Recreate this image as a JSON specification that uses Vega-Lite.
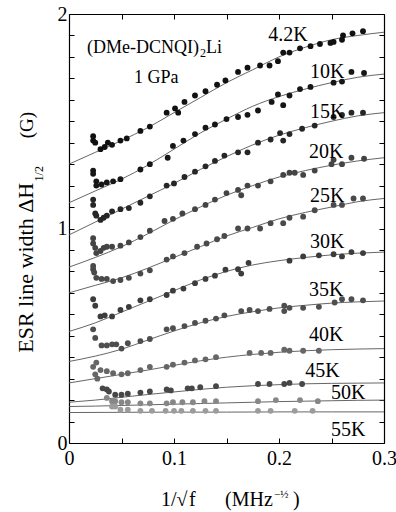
{
 "$schema": "https://vega.github.io/schema/vega-lite/v6.json",
 "width": 315, "height": 429,
 "autosize": {"type": "none"},
 "padding": {"left": 69, "top": 14, "right": 12, "bottom": 69},
 "background": "white",
 "config": {
  "view": {"stroke": null},
  "font": "Liberation Serif",
  "axis": {"domainColor": "black", "domainWidth": 1.2, "tickColor": "black", "tickWidth": 1, "tickSize": -5, "grid": false, "title": null, "labelFont": "Liberation Serif", "labelFontSize": 20, "labelColor": "black", "labelFlush": false, "labelOverlap": false, "labelBound": false, "format": "~g"}
 },
 "datasets": {
  "curves": [
   {"s":"4.2K","x":0,"y":1.30},{"s":"4.2K","x":0.025,"y":1.355},{"s":"4.2K","x":0.05,"y":1.41},{"s":"4.2K","x":0.075,"y":1.47},{"s":"4.2K","x":0.1,"y":1.54},{"s":"4.2K","x":0.125,"y":1.61},{"s":"4.2K","x":0.15,"y":1.68},{"s":"4.2K","x":0.175,"y":1.74},{"s":"4.2K","x":0.2,"y":1.80},{"s":"4.2K","x":0.225,"y":1.845},{"s":"4.2K","x":0.25,"y":1.88},{"s":"4.2K","x":0.275,"y":1.90},{"s":"4.2K","x":0.3,"y":1.915},
   {"s":"10K","x":0,"y":1.12},{"s":"10K","x":0.025,"y":1.175},{"s":"10K","x":0.05,"y":1.23},{"s":"10K","x":0.075,"y":1.295},{"s":"10K","x":0.1,"y":1.37},{"s":"10K","x":0.125,"y":1.445},{"s":"10K","x":0.15,"y":1.51},{"s":"10K","x":0.175,"y":1.57},{"s":"10K","x":0.2,"y":1.615},{"s":"10K","x":0.225,"y":1.65},{"s":"10K","x":0.25,"y":1.68},{"s":"10K","x":0.275,"y":1.705},{"s":"10K","x":0.3,"y":1.72},
   {"s":"15K","x":0,"y":0.97},{"s":"15K","x":0.025,"y":1.03},{"s":"15K","x":0.05,"y":1.09},{"s":"15K","x":0.075,"y":1.15},{"s":"15K","x":0.1,"y":1.21},{"s":"15K","x":0.125,"y":1.275},{"s":"15K","x":0.15,"y":1.335},{"s":"15K","x":0.175,"y":1.39},{"s":"15K","x":0.2,"y":1.435},{"s":"15K","x":0.225,"y":1.47},{"s":"15K","x":0.25,"y":1.50},{"s":"15K","x":0.275,"y":1.525},{"s":"15K","x":0.3,"y":1.54},
   {"s":"20K","x":0,"y":0.82},{"s":"20K","x":0.025,"y":0.865},{"s":"20K","x":0.05,"y":0.915},{"s":"20K","x":0.075,"y":0.975},{"s":"20K","x":0.1,"y":1.04},{"s":"20K","x":0.125,"y":1.10},{"s":"20K","x":0.15,"y":1.155},{"s":"20K","x":0.175,"y":1.20},{"s":"20K","x":0.2,"y":1.24},{"s":"20K","x":0.225,"y":1.27},{"s":"20K","x":0.25,"y":1.295},{"s":"20K","x":0.275,"y":1.315},{"s":"20K","x":0.3,"y":1.33},
   {"s":"25K","x":0,"y":0.70},{"s":"25K","x":0.025,"y":0.735},{"s":"25K","x":0.05,"y":0.77},{"s":"25K","x":0.075,"y":0.815},{"s":"25K","x":0.1,"y":0.865},{"s":"25K","x":0.125,"y":0.915},{"s":"25K","x":0.15,"y":0.965},{"s":"25K","x":0.175,"y":1.005},{"s":"25K","x":0.2,"y":1.045},{"s":"25K","x":0.225,"y":1.075},{"s":"25K","x":0.25,"y":1.10},{"s":"25K","x":0.275,"y":1.125},{"s":"25K","x":0.3,"y":1.14},
   {"s":"30K","x":0,"y":0.52},{"s":"30K","x":0.025,"y":0.56},{"s":"30K","x":0.05,"y":0.61},{"s":"30K","x":0.075,"y":0.66},{"s":"30K","x":0.1,"y":0.71},{"s":"30K","x":0.125,"y":0.76},{"s":"30K","x":0.15,"y":0.80},{"s":"30K","x":0.175,"y":0.83},{"s":"30K","x":0.2,"y":0.85},{"s":"30K","x":0.225,"y":0.865},{"s":"30K","x":0.25,"y":0.877},{"s":"30K","x":0.275,"y":0.885},{"s":"30K","x":0.3,"y":0.89},
   {"s":"35K","x":0,"y":0.38},{"s":"35K","x":0.025,"y":0.405},{"s":"35K","x":0.05,"y":0.437},{"s":"35K","x":0.075,"y":0.48},{"s":"35K","x":0.1,"y":0.522},{"s":"35K","x":0.125,"y":0.56},{"s":"35K","x":0.15,"y":0.59},{"s":"35K","x":0.175,"y":0.612},{"s":"35K","x":0.2,"y":0.63},{"s":"35K","x":0.225,"y":0.642},{"s":"35K","x":0.25,"y":0.652},{"s":"35K","x":0.275,"y":0.658},{"s":"35K","x":0.3,"y":0.662},
   {"s":"40K","x":0,"y":0.28},{"s":"40K","x":0.025,"y":0.30},{"s":"40K","x":0.05,"y":0.32},{"s":"40K","x":0.075,"y":0.34},{"s":"40K","x":0.1,"y":0.362},{"s":"40K","x":0.125,"y":0.383},{"s":"40K","x":0.15,"y":0.40},{"s":"40K","x":0.175,"y":0.413},{"s":"40K","x":0.2,"y":0.423},{"s":"40K","x":0.225,"y":0.43},{"s":"40K","x":0.25,"y":0.435},{"s":"40K","x":0.275,"y":0.438},{"s":"40K","x":0.3,"y":0.44},
   {"s":"45K","x":0,"y":0.19},{"s":"45K","x":0.025,"y":0.20},{"s":"45K","x":0.05,"y":0.213},{"s":"45K","x":0.075,"y":0.226},{"s":"45K","x":0.1,"y":0.238},{"s":"45K","x":0.125,"y":0.25},{"s":"45K","x":0.15,"y":0.26},{"s":"45K","x":0.175,"y":0.267},{"s":"45K","x":0.2,"y":0.272},{"s":"45K","x":0.225,"y":0.276},{"s":"45K","x":0.25,"y":0.278},{"s":"45K","x":0.275,"y":0.279},{"s":"45K","x":0.3,"y":0.28},
   {"s":"50K","x":0,"y":0.17},{"s":"50K","x":0.025,"y":0.172},{"s":"50K","x":0.05,"y":0.175},{"s":"50K","x":0.075,"y":0.178},{"s":"50K","x":0.1,"y":0.181},{"s":"50K","x":0.125,"y":0.184},{"s":"50K","x":0.15,"y":0.187},{"s":"50K","x":0.175,"y":0.19},{"s":"50K","x":0.2,"y":0.193},{"s":"50K","x":0.225,"y":0.195},{"s":"50K","x":0.25,"y":0.197},{"s":"50K","x":0.275,"y":0.199},{"s":"50K","x":0.3,"y":0.20},
   {"s":"55K","x":0,"y":0.142},{"s":"55K","x":0.05,"y":0.143},{"s":"55K","x":0.1,"y":0.144},{"s":"55K","x":0.15,"y":0.144},{"s":"55K","x":0.2,"y":0.145},{"s":"55K","x":0.25,"y":0.145},{"s":"55K","x":0.3,"y":0.145}
  ],
  "pts": [
   {"s":"4.2K","x":0.023,"y":1.43},{"s":"4.2K","x":0.023,"y":1.41},{"s":"4.2K","x":0.025,"y":1.40},{"s":"4.2K","x":0.03,"y":1.37},{"s":"4.2K","x":0.034,"y":1.38},{"s":"4.2K","x":0.037,"y":1.40},{"s":"4.2K","x":0.041,"y":1.39},{"s":"4.2K","x":0.049,"y":1.41},{"s":"4.2K","x":0.055,"y":1.42},{"s":"4.2K","x":0.068,"y":1.455},{"s":"4.2K","x":0.077,"y":1.475},{"s":"4.2K","x":0.093,"y":1.54},{"s":"4.2K","x":0.101,"y":1.56},{"s":"4.2K","x":0.104,"y":1.54},{"s":"4.2K","x":0.11,"y":1.59},{"s":"4.2K","x":0.12,"y":1.62},{"s":"4.2K","x":0.13,"y":1.64},{"s":"4.2K","x":0.141,"y":1.67},{"s":"4.2K","x":0.149,"y":1.69},{"s":"4.2K","x":0.161,"y":1.73},{"s":"4.2K","x":0.17,"y":1.75},{"s":"4.2K","x":0.182,"y":1.76},{"s":"4.2K","x":0.191,"y":1.76},{"s":"4.2K","x":0.199,"y":1.78},{"s":"4.2K","x":0.204,"y":1.82},{"s":"4.2K","x":0.21,"y":1.82},{"s":"4.2K","x":0.22,"y":1.84},{"s":"4.2K","x":0.23,"y":1.85},{"s":"4.2K","x":0.239,"y":1.86},{"s":"4.2K","x":0.249,"y":1.865},{"s":"4.2K","x":0.252,"y":1.87},{"s":"4.2K","x":0.26,"y":1.88},{"s":"4.2K","x":0.261,"y":1.90},{"s":"4.2K","x":0.27,"y":1.91},{"s":"4.2K","x":0.28,"y":1.92},
   {"s":"10K","x":0.023,"y":1.27},{"s":"10K","x":0.023,"y":1.255},{"s":"10K","x":0.026,"y":1.22},{"s":"10K","x":0.026,"y":1.20},{"s":"10K","x":0.031,"y":1.205},{"s":"10K","x":0.036,"y":1.215},{"s":"10K","x":0.042,"y":1.22},{"s":"10K","x":0.049,"y":1.23},{"s":"10K","x":0.068,"y":1.275},{"s":"10K","x":0.077,"y":1.30},{"s":"10K","x":0.094,"y":1.33},{"s":"10K","x":0.099,"y":1.385},{"s":"10K","x":0.109,"y":1.41},{"s":"10K","x":0.12,"y":1.44},{"s":"10K","x":0.13,"y":1.47},{"s":"10K","x":0.139,"y":1.485},{"s":"10K","x":0.15,"y":1.51},{"s":"10K","x":0.161,"y":1.52},{"s":"10K","x":0.17,"y":1.53},{"s":"10K","x":0.18,"y":1.55},{"s":"10K","x":0.193,"y":1.59},{"s":"10K","x":0.199,"y":1.625},{"s":"10K","x":0.204,"y":1.575},{"s":"10K","x":0.21,"y":1.62},{"s":"10K","x":0.22,"y":1.65},{"s":"10K","x":0.23,"y":1.66},{"s":"10K","x":0.252,"y":1.68},{"s":"10K","x":0.26,"y":1.685},{"s":"10K","x":0.269,"y":1.73},{"s":"10K","x":0.281,"y":1.725},
   {"s":"15K","x":0.023,"y":1.135},{"s":"15K","x":0.023,"y":1.11},{"s":"15K","x":0.025,"y":1.07},{"s":"15K","x":0.026,"y":1.06},{"s":"15K","x":0.03,"y":1.04},{"s":"15K","x":0.033,"y":1.05},{"s":"15K","x":0.036,"y":1.06},{"s":"15K","x":0.041,"y":1.08},{"s":"15K","x":0.049,"y":1.09},{"s":"15K","x":0.057,"y":1.095},{"s":"15K","x":0.068,"y":1.12},{"s":"15K","x":0.077,"y":1.15},{"s":"15K","x":0.093,"y":1.20},{"s":"15K","x":0.1,"y":1.21},{"s":"15K","x":0.11,"y":1.24},{"s":"15K","x":0.12,"y":1.265},{"s":"15K","x":0.13,"y":1.29},{"s":"15K","x":0.139,"y":1.315},{"s":"15K","x":0.148,"y":1.34},{"s":"15K","x":0.161,"y":1.355},{"s":"15K","x":0.17,"y":1.355},{"s":"15K","x":0.18,"y":1.40},{"s":"15K","x":0.192,"y":1.415},{"s":"15K","x":0.201,"y":1.445},{"s":"15K","x":0.204,"y":1.41},{"s":"15K","x":0.21,"y":1.44},{"s":"15K","x":0.222,"y":1.465},{"s":"15K","x":0.234,"y":1.48},{"s":"15K","x":0.252,"y":1.52},{"s":"15K","x":0.26,"y":1.53},{"s":"15K","x":0.269,"y":1.54},{"s":"15K","x":0.28,"y":1.54},
   {"s":"20K","x":0.023,"y":0.955},{"s":"20K","x":0.023,"y":0.93},{"s":"20K","x":0.025,"y":0.91},{"s":"20K","x":0.026,"y":0.885},{"s":"20K","x":0.03,"y":0.895},{"s":"20K","x":0.033,"y":0.91},{"s":"20K","x":0.036,"y":0.915},{"s":"20K","x":0.041,"y":0.915},{"s":"20K","x":0.049,"y":0.92},{"s":"20K","x":0.057,"y":0.935},{"s":"20K","x":0.068,"y":0.96},{"s":"20K","x":0.077,"y":0.99},{"s":"20K","x":0.091,"y":1.035},{"s":"20K","x":0.099,"y":1.045},{"s":"20K","x":0.108,"y":1.07},{"s":"20K","x":0.12,"y":1.09},{"s":"20K","x":0.13,"y":1.11},{"s":"20K","x":0.139,"y":1.135},{"s":"20K","x":0.15,"y":1.165},{"s":"20K","x":0.161,"y":1.18},{"s":"20K","x":0.164,"y":1.155},{"s":"20K","x":0.17,"y":1.20},{"s":"20K","x":0.18,"y":1.20},{"s":"20K","x":0.192,"y":1.22},{"s":"20K","x":0.204,"y":1.25},{"s":"20K","x":0.21,"y":1.26},{"s":"20K","x":0.215,"y":1.26},{"s":"20K","x":0.223,"y":1.25},{"s":"20K","x":0.234,"y":1.27},{"s":"20K","x":0.25,"y":1.30},{"s":"20K","x":0.252,"y":1.32},{"s":"20K","x":0.26,"y":1.30},{"s":"20K","x":0.269,"y":1.33},{"s":"20K","x":0.281,"y":1.325},
   {"s":"25K","x":0.023,"y":0.825},{"s":"25K","x":0.023,"y":0.81},{"s":"25K","x":0.024,"y":0.795},{"s":"25K","x":0.026,"y":0.77},{"s":"25K","x":0.031,"y":0.765},{"s":"25K","x":0.036,"y":0.765},{"s":"25K","x":0.042,"y":0.755},{"s":"25K","x":0.049,"y":0.76},{"s":"25K","x":0.057,"y":0.77},{"s":"25K","x":0.068,"y":0.79},{"s":"25K","x":0.077,"y":0.805},{"s":"25K","x":0.093,"y":0.855},{"s":"25K","x":0.099,"y":0.87},{"s":"25K","x":0.11,"y":0.885},{"s":"25K","x":0.122,"y":0.915},{"s":"25K","x":0.131,"y":0.93},{"s":"25K","x":0.141,"y":0.95},{"s":"25K","x":0.148,"y":0.965},{"s":"25K","x":0.161,"y":1.0},{"s":"25K","x":0.17,"y":1.0},{"s":"25K","x":0.182,"y":1.0},{"s":"25K","x":0.192,"y":1.025},{"s":"25K","x":0.204,"y":1.025},{"s":"25K","x":0.21,"y":1.05},{"s":"25K","x":0.223,"y":1.055},{"s":"25K","x":0.234,"y":1.085},{"s":"25K","x":0.252,"y":1.11},{"s":"25K","x":0.26,"y":1.11},{"s":"25K","x":0.271,"y":1.14},{"s":"25K","x":0.28,"y":1.14},
   {"s":"30K","x":0.023,"y":0.67},{"s":"30K","x":0.025,"y":0.64},{"s":"30K","x":0.03,"y":0.59},{"s":"30K","x":0.034,"y":0.595},{"s":"30K","x":0.041,"y":0.59},{"s":"30K","x":0.049,"y":0.62},{"s":"30K","x":0.057,"y":0.635},{"s":"30K","x":0.068,"y":0.665},{"s":"30K","x":0.077,"y":0.67},{"s":"30K","x":0.093,"y":0.69},{"s":"30K","x":0.099,"y":0.71},{"s":"30K","x":0.109,"y":0.72},{"s":"30K","x":0.12,"y":0.745},{"s":"30K","x":0.13,"y":0.765},{"s":"30K","x":0.139,"y":0.78},{"s":"30K","x":0.149,"y":0.808},{"s":"30K","x":0.161,"y":0.81},{"s":"30K","x":0.164,"y":0.79},{"s":"30K","x":0.171,"y":0.84},{"s":"30K","x":0.21,"y":0.85},{"s":"30K","x":0.223,"y":0.87},{"s":"30K","x":0.238,"y":0.875},{"s":"30K","x":0.252,"y":0.88},{"s":"30K","x":0.26,"y":0.87},{"s":"30K","x":0.269,"y":0.89},{"s":"30K","x":0.28,"y":0.885},
   {"s":"35K","x":0.023,"y":0.53},{"s":"35K","x":0.025,"y":0.49},{"s":"35K","x":0.031,"y":0.455},{"s":"35K","x":0.036,"y":0.455},{"s":"35K","x":0.041,"y":0.46},{"s":"35K","x":0.045,"y":0.46},{"s":"35K","x":0.05,"y":0.44},{"s":"35K","x":0.056,"y":0.465},{"s":"35K","x":0.068,"y":0.475},{"s":"35K","x":0.077,"y":0.485},{"s":"35K","x":0.093,"y":0.53},{"s":"35K","x":0.099,"y":0.535},{"s":"35K","x":0.11,"y":0.545},{"s":"35K","x":0.12,"y":0.56},{"s":"35K","x":0.13,"y":0.57},{"s":"35K","x":0.14,"y":0.58},{"s":"35K","x":0.148,"y":0.595},{"s":"35K","x":0.164,"y":0.615},{"s":"35K","x":0.172,"y":0.62},{"s":"35K","x":0.18,"y":0.615},{"s":"35K","x":0.191,"y":0.625},{"s":"35K","x":0.205,"y":0.64},{"s":"35K","x":0.205,"y":0.615},{"s":"35K","x":0.21,"y":0.63},{"s":"35K","x":0.223,"y":0.63},{"s":"35K","x":0.238,"y":0.635},{"s":"35K","x":0.253,"y":0.655},{"s":"35K","x":0.26,"y":0.67},{"s":"35K","x":0.269,"y":0.67},{"s":"35K","x":0.28,"y":0.665},
   {"s":"40K","x":0.023,"y":0.355},{"s":"40K","x":0.026,"y":0.375},{"s":"40K","x":0.025,"y":0.32},{"s":"40K","x":0.027,"y":0.30},{"s":"40K","x":0.03,"y":0.34},{"s":"40K","x":0.036,"y":0.335},{"s":"40K","x":0.042,"y":0.325},{"s":"40K","x":0.05,"y":0.32},{"s":"40K","x":0.056,"y":0.325},{"s":"40K","x":0.068,"y":0.34},{"s":"40K","x":0.077,"y":0.355},{"s":"40K","x":0.093,"y":0.355},{"s":"40K","x":0.099,"y":0.365},{"s":"40K","x":0.11,"y":0.375},{"s":"40K","x":0.12,"y":0.385},{"s":"40K","x":0.13,"y":0.39},{"s":"40K","x":0.14,"y":0.40},{"s":"40K","x":0.172,"y":0.42},{"s":"40K","x":0.183,"y":0.42},{"s":"40K","x":0.192,"y":0.42},{"s":"40K","x":0.205,"y":0.435},{"s":"40K","x":0.21,"y":0.43},{"s":"40K","x":0.223,"y":0.43},{"s":"40K","x":0.238,"y":0.43},
   {"s":"45K","x":0.032,"y":0.255},{"s":"45K","x":0.036,"y":0.25},{"s":"45K","x":0.038,"y":0.24},{"s":"45K","x":0.044,"y":0.225},{"s":"45K","x":0.05,"y":0.225},{"s":"45K","x":0.056,"y":0.23},{"s":"45K","x":0.068,"y":0.235},{"s":"45K","x":0.077,"y":0.24},{"s":"45K","x":0.093,"y":0.25},{"s":"45K","x":0.097,"y":0.245},{"s":"45K","x":0.113,"y":0.255},{"s":"45K","x":0.117,"y":0.255},{"s":"45K","x":0.125,"y":0.26},{"s":"45K","x":0.14,"y":0.265},{"s":"45K","x":0.18,"y":0.275},{"s":"45K","x":0.191,"y":0.275},{"s":"45K","x":0.205,"y":0.275},{"s":"45K","x":0.21,"y":0.28},{"s":"45K","x":0.222,"y":0.275},
   {"s":"50K","x":0.036,"y":0.21},{"s":"50K","x":0.041,"y":0.195},{"s":"50K","x":0.044,"y":0.195},{"s":"50K","x":0.05,"y":0.19},{"s":"50K","x":0.056,"y":0.19},{"s":"50K","x":0.068,"y":0.185},{"s":"50K","x":0.077,"y":0.185},{"s":"50K","x":0.093,"y":0.185},{"s":"50K","x":0.099,"y":0.19},{"s":"50K","x":0.108,"y":0.19},{"s":"50K","x":0.118,"y":0.19},{"s":"50K","x":0.129,"y":0.195},{"s":"50K","x":0.14,"y":0.195},{"s":"50K","x":0.18,"y":0.195},{"s":"50K","x":0.197,"y":0.2},{"s":"50K","x":0.22,"y":0.2},{"s":"50K","x":0.237,"y":0.195},
   {"s":"55K","x":0.041,"y":0.17},{"s":"55K","x":0.044,"y":0.17},{"s":"55K","x":0.049,"y":0.155},{"s":"55K","x":0.056,"y":0.155},{"s":"55K","x":0.068,"y":0.15},{"s":"55K","x":0.079,"y":0.15},{"s":"55K","x":0.092,"y":0.15},{"s":"55K","x":0.1,"y":0.15},{"s":"55K","x":0.107,"y":0.15},{"s":"55K","x":0.118,"y":0.15},{"s":"55K","x":0.13,"y":0.15},{"s":"55K","x":0.14,"y":0.15},{"s":"55K","x":0.18,"y":0.15},{"s":"55K","x":0.192,"y":0.15},{"s":"55K","x":0.215,"y":0.15},{"s":"55K","x":0.232,"y":0.15}
  ],
  "labels": [
   {"t":"4.2K","x":0.2086,"y":1.902},{"t":"10K","x":0.246,"y":1.731},{"t":"15K","x":0.246,"y":1.544},{"t":"20K","x":0.245,"y":1.357},{"t":"25K","x":0.246,"y":1.15},{"t":"30K","x":0.246,"y":0.937},{"t":"35K","x":0.245,"y":0.711},{"t":"40K","x":0.245,"y":0.505},{"t":"45K","x":0.2414,"y":0.337},{"t":"50K","x":0.266,"y":0.231},{"t":"55K","x":0.266,"y":0.061}
  ],
  "notes": [
   {"t":"(DMe-DCNQI)","x":0.01714,"y":1.82,"fs":18,"st":"normal","ang":0},
   {"t":"2","x":0.1248,"y":1.799,"fs":12,"st":"normal","ang":0},
   {"t":"Li","x":0.1305,"y":1.82,"fs":18,"st":"normal","ang":0},
   {"t":"1 GPa","x":0.0619,"y":1.678,"fs":18,"st":"normal","ang":0},
   {"t":"1/√","x":0.0876,"y":-0.2944,"fs":20,"st":"normal","ang":0},
   {"t":"f","x":0.1143,"y":-0.2944,"fs":20,"st":"italic","ang":0},
   {"t":"(MHz","x":0.1486,"y":-0.2944,"fs":20,"st":"normal","ang":0},
   {"t":"−½","x":0.1952,"y":-0.257,"fs":11,"st":"normal","ang":0},
   {"t":")","x":0.2133,"y":-0.2944,"fs":20,"st":"normal","ang":0},
   {"t":"ESR line width ΔH","x":-0.0343,"y":0.4206,"fs":22,"st":"normal","ang":270},
   {"t":"1/2","x":-0.0248,"y":1.2196,"fs":12,"st":"normal","ang":270},
   {"t":"(G)","x":-0.0343,"y":1.4206,"fs":19,"st":"normal","ang":270}
  ]
 },
 "layer": [
  {
   "data": {"name": "curves"},
   "mark": {"type": "line", "interpolate": "monotone", "color": "#555555", "strokeWidth": 0.9},
   "encoding": {
    "x": {"field": "x", "type": "quantitative", "scale": {"domain": [0, 0.3], "nice": false, "zero": false}, "axis": {"orient": "bottom", "values": [0, 0.05, 0.1, 0.15, 0.2, 0.25, 0.3], "labelExpr": "round(datum.value*100) % 10 == 0 ? datum.label : ''", "labelPadding": 10}},
    "y": {"field": "y", "type": "quantitative", "scale": {"domain": [0, 2], "nice": false, "zero": false}, "axis": {"orient": "left", "values": [0,0.1,0.2,0.3,0.4,0.5,0.6,0.7,0.8,0.9,1,1.1,1.2,1.3,1.4,1.5,1.6,1.7,1.8,1.9,2], "labelExpr": "round(datum.value*10) % 10 == 0 ? datum.label : ''", "labelPadding": 7}},
    "detail": {"field": "s"}
   }
  },
  {
   "data": {"name": "pts"},
   "mark": {"type": "circle", "size": 34, "opacity": 1},
   "encoding": {
    "x": {"field": "x", "type": "quantitative", "axis": {"orient": "top", "values": [0, 0.05, 0.1, 0.15, 0.2, 0.25, 0.3], "labels": false}},
    "y": {"field": "y", "type": "quantitative", "axis": {"orient": "right", "values": [0,0.1,0.2,0.3,0.4,0.5,0.6,0.7,0.8,0.9,1,1.1,1.2,1.3,1.4,1.5,1.6,1.7,1.8,1.9,2], "labels": false}},
    "color": {"field": "s", "type": "nominal", "legend": null, "scale": {"domain": ["4.2K","10K","15K","20K","25K","30K","35K","40K","45K","50K","55K"], "range": ["#111111","#161616","#262626","#444444","#4a4a4a","#3c3c3c","#4e4e4e","#666666","#474747","#878787","#9c9c9c"]}}
   }
  },
  {
   "data": {"name": "labels"},
   "mark": {"type": "text", "fontSize": 20, "font": "Liberation Serif", "color": "black", "align": "center", "baseline": "middle"},
   "encoding": {
    "x": {"field": "x", "type": "quantitative", "axis": null},
    "y": {"field": "y", "type": "quantitative", "axis": null},
    "text": {"field": "t"}
   }
  },
  {
   "data": {"name": "notes"},
   "mark": {"type": "text", "font": "Liberation Serif", "color": "black", "align": "left", "baseline": "alphabetic"},
   "encoding": {
    "x": {"field": "x", "type": "quantitative", "axis": null},
    "y": {"field": "y", "type": "quantitative", "axis": null},
    "text": {"field": "t"},
    "size": {"field": "fs", "type": "quantitative", "scale": null},
    "angle": {"field": "ang", "type": "quantitative", "scale": null},
    "fontStyle": {"field": "st", "type": "nominal", "scale": null}
   }
  }
 ],
 "resolve": {"axis": {"x": "independent", "y": "independent"}}
}
